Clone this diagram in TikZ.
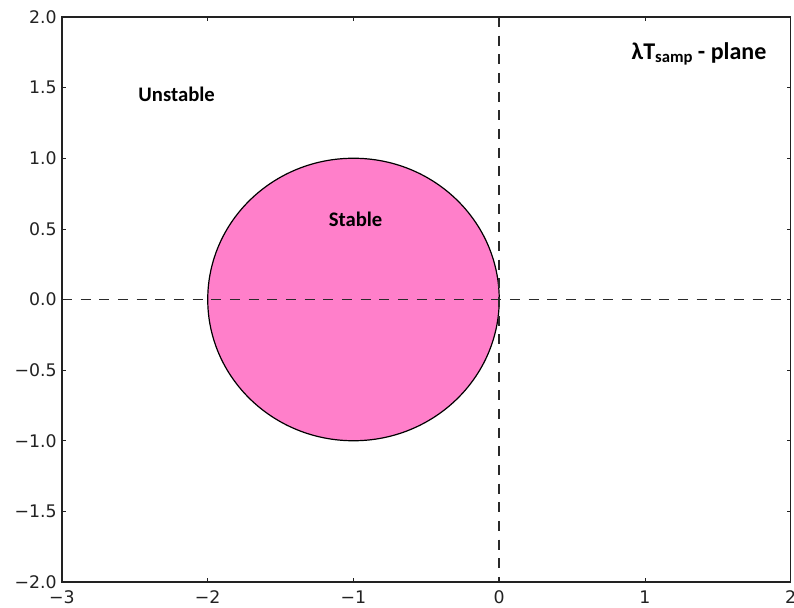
\documentclass[tikz,border=0pt]{standalone}
\usepackage{fontspec}
\setmainfont{Carlito}
\newfontfamily\tickfont{DejaVu Sans}
\usetikzlibrary{positioning}
\definecolor{SPPink}{HTML}{FF7FCA}
\definecolor{SPAxis}{HTML}{222222}
\definecolor{SPDash}{HTML}{2A2A2A}

\begin{document}
\begin{tikzpicture}[
      x=109.3125pt,y=105.9375pt,
      frame/.style={draw=SPAxis,line width=1pt},
      tickmark/.style={draw=SPAxis,line width=.5pt},
      axisline/.style={draw=SPDash,line width=1.4pt,dash pattern=on 7.5pt off 6.5pt},
      region/.style={font=\fontsize{15.5}{18}\selectfont\bfseries,inner sep=0pt},
      ticklabel/.style={font=\tickfont\fontsize{13}{15}\selectfont,text=SPAxis,inner sep=0pt}
    ]
      \useasboundingbox (-3.4254,-2.1841) rectangle (2.0223,2.1204);
      % stable region
      \draw[fill=SPPink,draw=black,line width=.9pt] (-1,0) ellipse [x radius=1,y radius=1];
      % real and imaginary axes
      \coordinate (left) at (-3,0);
      \coordinate (right) at (2,0);
      \coordinate (bottom) at (0,-2);
      \coordinate (top) at (0,2);
      \draw[axisline] (left)--(right);
      \draw[axisline] (top)--(bottom);
      % frame and ticks
      \draw[frame] (-3,-2) rectangle (2,2);
      \foreach \x/\xlab in {-3/−3,-2/−2,-1/−1,0/0,1/1,2/2}{
        \draw[tickmark] (\x,-2)--++(0,3pt);
        \draw[tickmark] (\x,2)--++(0,-3pt);
        \node[ticklabel,anchor=base,yshift=-16pt] (xl\x) at (\x,-2) {\xlab};
      }
      \foreach \y/\ylab in {-2/−2.0,-1.5/−1.5,-1/−1.0,-.5/−0.5,0/0.0,.5/0.5,1/1.0,1.5/1.5,2/2.0}{
        \draw[tickmark] (-3,\y)--++(3pt,0);
        \draw[tickmark] (2,\y)--++(-3pt,0);
        \node[ticklabel,anchor=base east,xshift=-3.75pt,yshift=-4.7pt] (yl\y) at (-3,\y) {\ylab};
      }
      % labels
      \node[region,anchor=base] (unstable) at (-2.2133,1.400) {Unstable};
      \node[region,anchor=base] (stable) at (-.986,.520) {Stable};
      \node[region,font=\fontsize{18}{21}\selectfont\bfseries,anchor=base] (plane) at (1.3705,1.6956)
        {λT\raisebox{-.2ex}{\fontsize{12.5}{14}\selectfont samp} - plane};
    \end{tikzpicture}
\end{document}
